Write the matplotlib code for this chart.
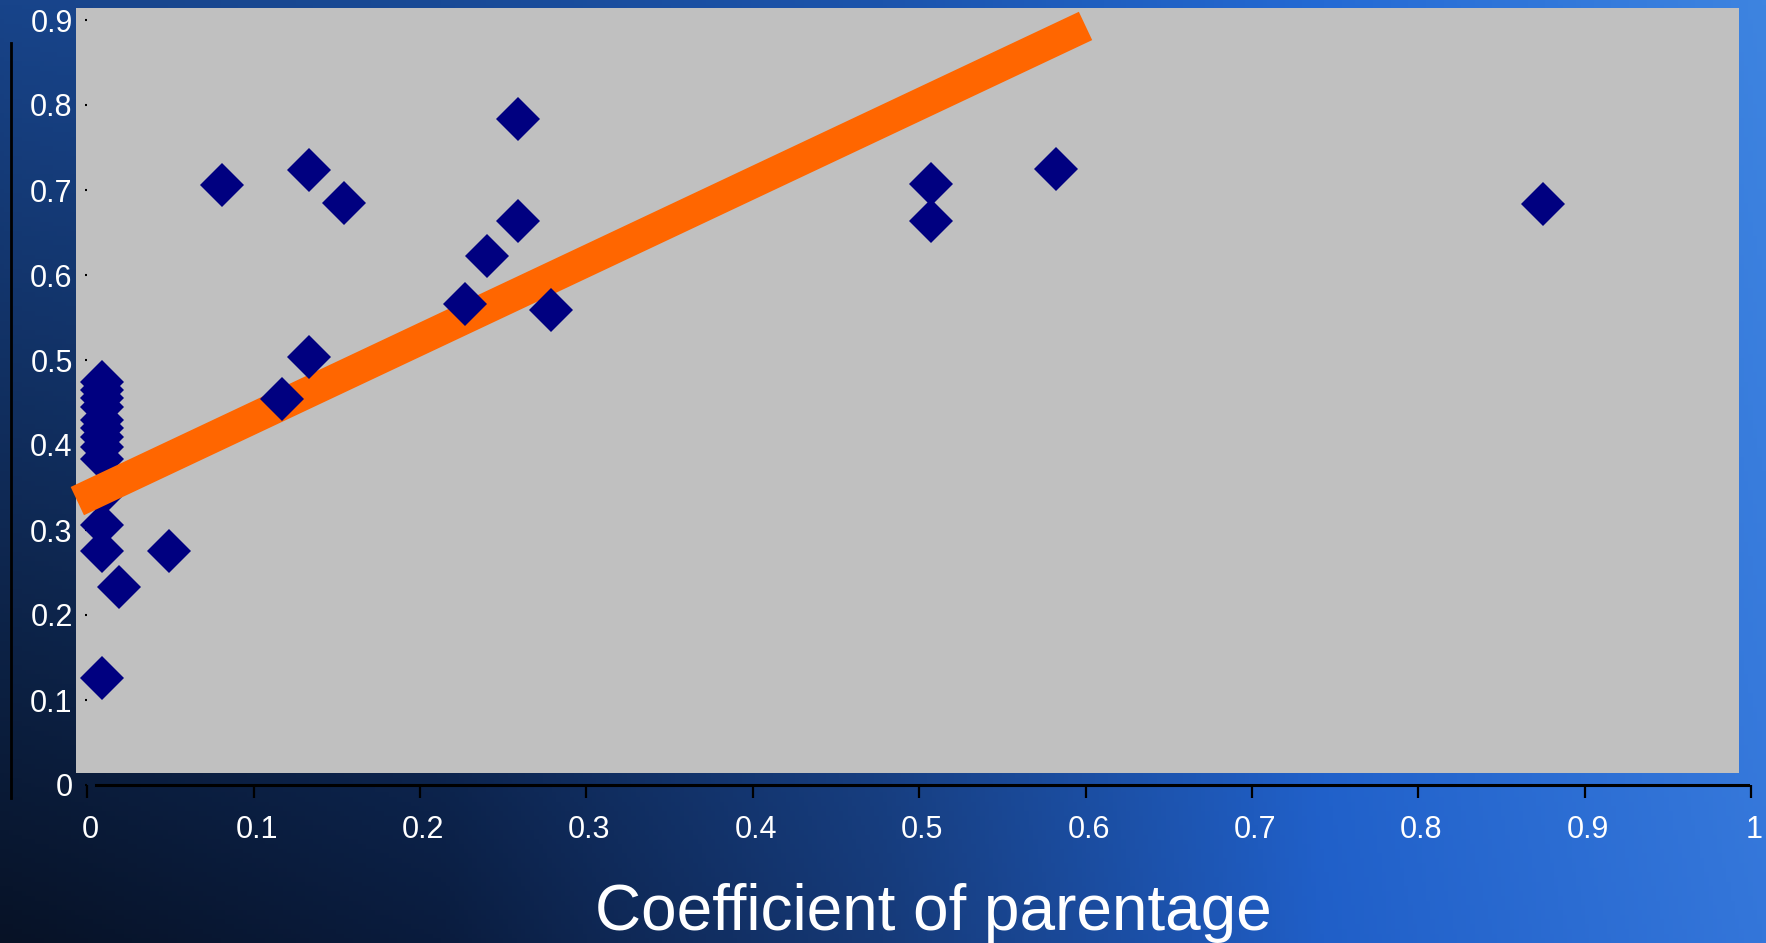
import numpy as np
import matplotlib
matplotlib.use('Agg')
import matplotlib.pyplot as plt
import matplotlib.transforms as mtransforms
from matplotlib.patches import Rectangle
from matplotlib.lines import Line2D

plt.rcParams['font.family'] = ['Liberation Sans', 'DejaVu Sans']

# Data
coef_x = [0.009, 0.009, 0.009, 0.009, 0.009, 0.009, 0.009, 0.009, 0.009,
          0.009, 0.009, 0.009, 0.009, 0.019, 0.049,
          0.081, 0.117, 0.133, 0.133, 0.154,
          0.227, 0.240, 0.259, 0.259, 0.279,
          0.507, 0.507, 0.582, 0.875]
resp_y = [0.474, 0.465, 0.455, 0.445, 0.429, 0.420, 0.410, 0.398, 0.384,
          0.341, 0.306, 0.275, 0.126, 0.233, 0.275,
          0.706, 0.454, 0.724, 0.503, 0.685,
          0.566, 0.622, 0.784, 0.664, 0.559,
          0.707, 0.664, 0.725, 0.684]
fit_x = [-0.006, 0.600]
fit_y = [0.334, 0.893]
x_ticks = [0, 0.1, 0.2, 0.3, 0.4, 0.5, 0.6, 0.7, 0.8, 0.9, 1]
x_labels = ['0', '0.1', '0.2', '0.3', '0.4', '0.5', '0.6', '0.7', '0.8', '0.9', '1']
y_ticks = [0, 0.1, 0.2, 0.3, 0.4, 0.5, 0.6, 0.7, 0.8, 0.9]
y_labels = ['0', '0.1', '0.2', '0.3', '0.4', '0.5', '0.6', '0.7', '0.8', '0.9']

W, H = 1766, 943
fig = plt.figure(figsize=(W / 100, H / 100), dpi=100)

# blue gradient background
bg = fig.add_axes([0, 0, 1, 1], zorder=0)
xs = np.linspace(0, 1, 400)
stops = [0, 0.25, 0.5, 0.75, 1.0]
bottom = np.array([[7, 18, 38], [10, 28, 62], [22, 58, 120], [32, 95, 200], [52, 118, 218]]) / 255
top = np.array([[24, 68, 138], [25, 74, 150], [28, 84, 172], [36, 106, 212], [62, 132, 224]]) / 255
bot_row = np.stack([np.interp(xs, stops, bottom[:, c]) for c in range(3)], axis=-1)
top_row = np.stack([np.interp(xs, stops, top[:, c]) for c in range(3)], axis=-1)
ys = np.linspace(0, 1, 200)[:, None, None]
img = top_row[None] * (1 - ys) + bot_row[None] * ys
bg.imshow(img, aspect='auto', extent=[0, 1, 0, 1], origin='upper')
bg.set_xlim(0, 1)
bg.set_ylim(0, 1)
bg.axis('off')

# grey plot panel
fig.patches.append(Rectangle((76 / W, 1 - 773 / H), (1739 - 76) / W, (773 - 8) / H,
                             transform=fig.transFigure, facecolor='#c0c0c0',
                             edgecolor='none', zorder=1))

# vertical bar at left edge
fig.lines.append(Line2D([11 / W, 11 / W], [1 - 43 / H, 1 - 798 / H],
                        transform=fig.transFigure, color='black', linewidth=2))

ax = fig.add_axes([87.3 / W, 1 - 785 / H, (1751 - 87.3) / W, (785 - 20) / H], zorder=2)
ax.set_facecolor('none')
ax.set_xlim(0, 1)
ax.set_ylim(0, 0.9)

cx = np.array(coef_x)
cy = np.array(resp_y)
near0 = cx < 0.01

# points on the y axis sit under the trend line, the others above it
ax.plot(cx[near0], cy[near0], linestyle='none', marker='D', markersize=22,
        color='#000080', markeredgewidth=0, clip_on=False, zorder=2)
ax.plot(fit_x, fit_y, color='#ff6600', linewidth=22.5, solid_capstyle='butt',
        clip_on=False, zorder=3)
ax.plot(cx[~near0], cy[~near0], linestyle='none', marker='D', markersize=22,
        color='#000080', markeredgewidth=0, clip_on=False, zorder=4)

for s in ['top', 'right', 'left']:
    ax.spines[s].set_visible(False)
ax.spines['bottom'].set_linewidth(2.2)
ax.spines['bottom'].set_bounds(0.005, 0.998)

ax.set_xticks(x_ticks)
ax.set_xticklabels(x_labels)
ax.set_yticks(y_ticks)
ax.set_yticklabels(y_labels)
ax.tick_params(axis='x', direction='out', length=9.5, width=1.6, pad=12,
               labelsize=22, labelcolor='white', color='black')
ax.tick_params(axis='y', direction='out', length=1.5, width=1.5, pad=9,
               labelsize=22, labelcolor='white', color='black')
shift = mtransforms.ScaledTranslation(3 / 100, 0, fig.dpi_scale_trans)
for lab in ax.get_xticklabels():
    lab.set_transform(lab.get_transform() + shift)

fig.text(933 / W, 1 - 930 / H, 'Coefficient of parentage', ha='center',
         va='baseline', fontsize=46, color='white')

fig.savefig('out.png', dpi=100)
